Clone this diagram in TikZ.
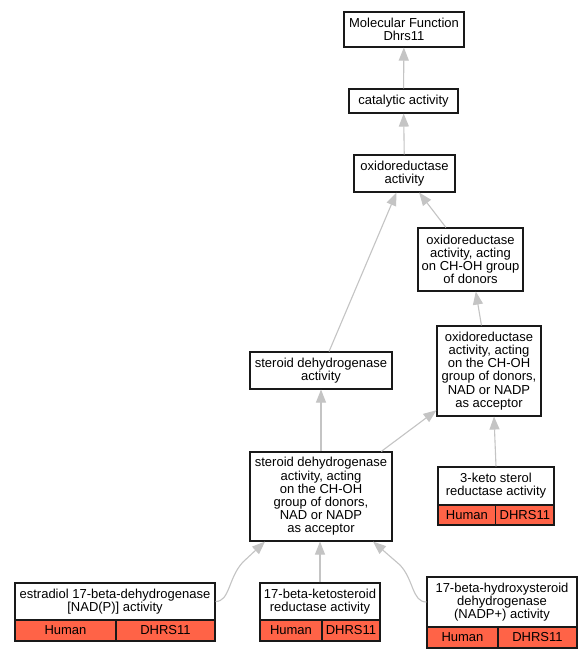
\documentclass[tikz,border=0pt]{standalone}
\usepackage{fontspec}
\setmainfont{Liberation Sans}
\usetikzlibrary{arrows.meta,calc}
\definecolor{tomatored}{HTML}{FF6347}
\definecolor{edgegray}{HTML}{C4C4C4}
\newcommand{\fsz}{\fontsize{13}{13.2}\selectfont}
\begin{document}
\begin{tikzpicture}[x=1pt,y=-1pt,
  term/.style={draw=black!90, line width=1.1pt, fill=white, align=center, inner sep=0pt, font=\fsz},
  cell/.style={draw=black!90, line width=1.1pt, fill=tomatored, inner sep=0pt, font=\fsz},
  edge/.style={draw=edgegray, line width=1.1pt, -{Triangle[length=13pt,width=10pt]}}]
\useasboundingbox (0,0) rectangle (584,659);
\fill[white] (0,0) rectangle (584,659);
% terms
\node[term, minimum width=120, minimum height=35] (mf) at (404,29.5) {Molecular Function\\Dhrs11};
\node[term, minimum width=109, minimum height=24] (cat) at (403.5,101) {catalytic activity};
\node[term, minimum width=101, minimum height=37] (ox) at (404.5,173.5) {oxidoreductase\\activity};
\node[term, minimum width=105, minimum height=63] (ch) at (470.5,259.5) {oxidoreductase\\activity, acting\\on CH-OH group\\of donors};
\node[term, minimum width=104, minimum height=90] (nad) at (489,371) {oxidoreductase\\activity, acting\\on the CH-OH\\group of donors,\\NAD or NADP\\as acceptor};
\node[term, minimum width=142, minimum height=37] (sd) at (321,370.5) {steroid dehydrogenase\\activity};
\node[term, minimum width=142, minimum height=89] (sdn) at (321,496.5) {steroid dehydrogenase\\activity, acting\\on the CH-OH\\group of donors,\\NAD or NADP\\as acceptor};
% annotated terms
\node[term, minimum width=116, minimum height=38] (ks) at (496,486) {3-keto sterol\\reductase activity};
\node[cell, minimum width=57.7, minimum height=20] (ksh) at (466.85,515) {Human};
\node[cell, minimum width=58.3, minimum height=20] (ksd) at (524.85,515) {DHRS11};
\node[term, minimum width=200, minimum height=37] (es) at (115,601.5) {estradiol 17-beta-dehydrogenase\\{[NAD(P)]} activity};
\node[cell, minimum width=101, minimum height=21] (esh) at (65.5,630.5) {Human};
\node[cell, minimum width=99, minimum height=21] (esd) at (165.5,630.5) {DHRS11};
\node[term, minimum width=120, minimum height=37] (kt) at (320,601.5) {17-beta-ketosteroid\\reductase activity};
\node[cell, minimum width=62, minimum height=21] (kth) at (291,630.5) {Human};
\node[cell, minimum width=58, minimum height=21] (ktd) at (351,630.5) {DHRS11};
\node[term, minimum width=150, minimum height=50] (hs) at (502,602) {17-beta-hydroxysteroid\\dehydrogenase\\(NADP+) activity};
\node[cell, minimum width=71, minimum height=21] (hsh) at (462.5,637.5) {Human};
\node[cell, minimum width=79, minimum height=21] (hsd) at (537.5,637.5) {DHRS11};
% edges
\draw[edge] (cat) -- (mf);
\draw[edge] (ox) -- (cat);
\draw[edge] (sd) -- (ox);
\draw[edge] (ch) -- (ox);
\draw[edge] (nad) -- (ch);
\draw[edge] (sdn) -- (sd);
\draw[edge] (sdn) -- (nad);
\draw[edge] (ks.north) -- ($(nad.south)+(5,0)$);
\draw[edge] (kt.north) -- (sdn.south -| kt.north);
\draw[edge] (es.east) .. controls (230,601.5) and (228,578) .. (243,562) -- ($(sdn.south)+(-56,0)$);
\draw[edge] (hs.west) .. controls (412,602) and (414,580) .. (400,565) -- ($(sdn.south)+(52,0)$);
\end{tikzpicture}
\end{document}
